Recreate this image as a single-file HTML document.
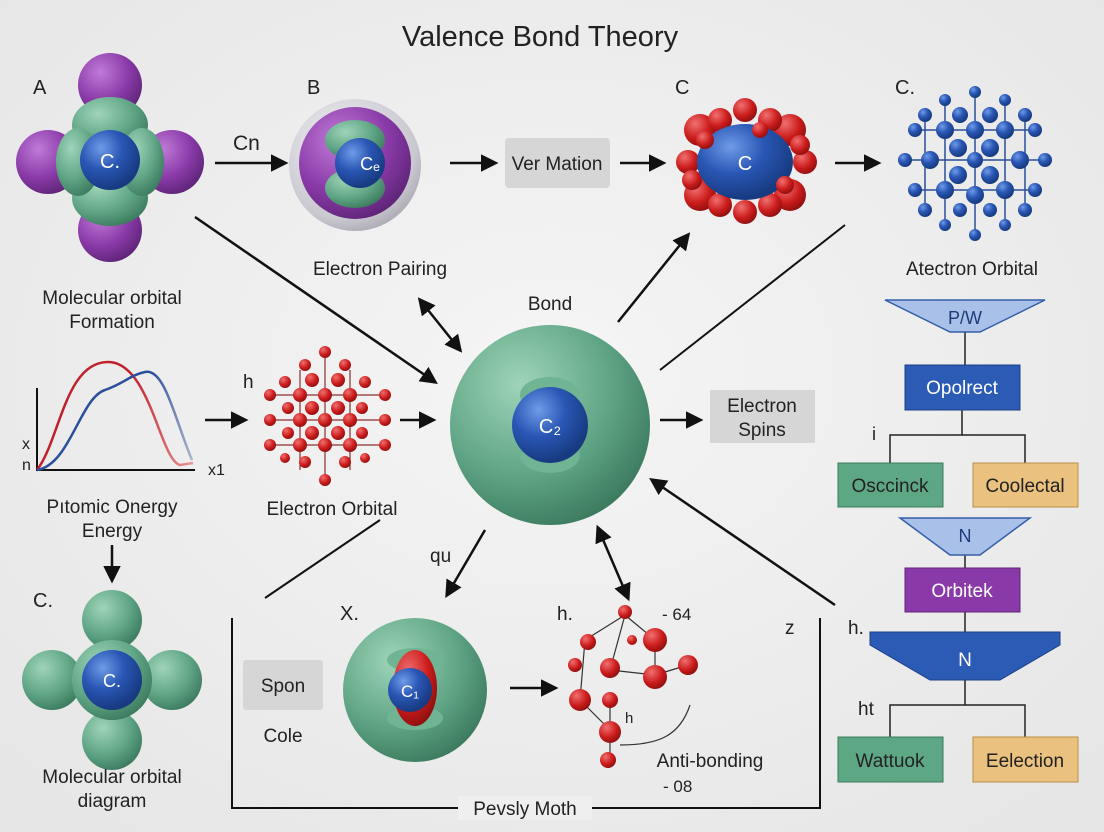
<!DOCTYPE html>
<html><head><meta charset="utf-8"><style>
html,body{margin:0;padding:0;background:#efefef}
svg{display:block}
text{font-family:"Liberation Sans",sans-serif;fill:#222}
</style></head><body>
<svg width="1104" height="832" viewBox="0 0 1104 832" xmlns="http://www.w3.org/2000/svg">
<defs>
<radialGradient id="bg" cx="50%" cy="45%" r="70%"><stop offset="0" stop-color="#f5f5f5"/><stop offset="1" stop-color="#e6e6e6"/></radialGradient>
<radialGradient id="blue" cx="35%" cy="30%" r="70%"><stop offset="0" stop-color="#6f9be8"/><stop offset="0.5" stop-color="#2a57b5"/><stop offset="1" stop-color="#173a80"/></radialGradient>
<radialGradient id="green" cx="35%" cy="30%" r="75%"><stop offset="0" stop-color="#9fd4b8"/><stop offset="0.6" stop-color="#5fa585"/><stop offset="1" stop-color="#3c7a5e"/></radialGradient>
<radialGradient id="purple" cx="35%" cy="30%" r="75%"><stop offset="0" stop-color="#c07ad8"/><stop offset="0.6" stop-color="#8a3aa8"/><stop offset="1" stop-color="#5e2477"/></radialGradient>
<radialGradient id="red" cx="35%" cy="30%" r="75%"><stop offset="0" stop-color="#f07070"/><stop offset="0.6" stop-color="#cc1c1c"/><stop offset="1" stop-color="#8c0f0f"/></radialGradient>
<radialGradient id="gray" cx="40%" cy="35%" r="70%"><stop offset="0" stop-color="#f4f4f6"/><stop offset="0.8" stop-color="#c9c7cf"/><stop offset="1" stop-color="#a9a6b0"/></radialGradient>
<linearGradient id="bluefade" x1="0" x2="1"><stop offset="0" stop-color="#2b4f9a"/><stop offset="0.75" stop-color="#2b4f9a"/><stop offset="1" stop-color="#aab4cc"/></linearGradient>
<linearGradient id="redfade" x1="0" x2="1"><stop offset="0" stop-color="#c0202a"/><stop offset="0.6" stop-color="#c0202a"/><stop offset="1" stop-color="#e89a9a"/></linearGradient>
<marker id="ah" viewBox="0 0 10 10" refX="8" refY="5" markerWidth="7" markerHeight="7" orient="auto-start-reverse"><path d="M0,0L10,5L0,10z" fill="#111"/></marker>
</defs>
<rect width="1104" height="832" fill="url(#bg)"/>
<text x="540" y="46" font-size="29" text-anchor="middle">Valence Bond Theory</text>

<g stroke="#111" stroke-width="2.5" fill="none" marker-end="url(#ah)">
<line x1="215" y1="163" x2="285" y2="163"/>
<line x1="450" y1="163" x2="495" y2="163"/>
<line x1="620" y1="163" x2="663" y2="163"/>
<line x1="835" y1="163" x2="878" y2="163"/>
<line x1="195" y1="217" x2="435" y2="382"/>
<line x1="420" y1="300" x2="460" y2="350" marker-start="url(#ah)"/>
<line x1="618" y1="322" x2="688" y2="235"/>
<line x1="205" y1="420" x2="245" y2="420"/>
<line x1="400" y1="420" x2="433" y2="420"/>
<line x1="660" y1="420" x2="700" y2="420"/>
<line x1="112" y1="545" x2="112" y2="580"/>
<line x1="485" y1="530" x2="447" y2="595"/>
<line x1="598" y1="528" x2="628" y2="598" marker-start="url(#ah)"/>
<line x1="835" y1="605" x2="652" y2="480"/>
<line x1="510" y1="688" x2="555" y2="688"/>
</g>
<g stroke="#111" stroke-width="2" fill="none">
<line x1="660" y1="370" x2="845" y2="225"/>
<line x1="265" y1="598" x2="380" y2="520"/>
<polyline points="232,618 232,808 820,808 820,618"/>
</g>

<!-- Molecule A -->
<circle cx="110" cy="85" r="32" fill="url(#purple)"/>
<circle cx="110" cy="230" r="32" fill="url(#purple)"/>
<circle cx="48" cy="162" r="32" fill="url(#purple)"/>
<circle cx="172" cy="162" r="32" fill="url(#purple)"/>
<ellipse cx="110" cy="125" rx="38" ry="28" fill="url(#green)"/>
<ellipse cx="110" cy="198" rx="38" ry="28" fill="url(#green)"/>
<ellipse cx="78" cy="162" rx="22" ry="34" fill="url(#green)"/>
<ellipse cx="142" cy="162" rx="22" ry="34" fill="url(#green)"/>
<circle cx="110" cy="160" r="30" fill="url(#blue)"/>
<text x="110" y="168" font-size="20" fill="#fff" text-anchor="middle" style="fill:#fff">C.</text>
<text x="33" y="94" font-size="20">A</text>
<text x="233" y="150" font-size="21">Cn</text>

<!-- Molecule B -->
<circle cx="355" cy="165" r="66" fill="url(#gray)"/>
<circle cx="355" cy="163" r="56" fill="url(#purple)"/>
<ellipse cx="355" cy="140" rx="30" ry="20" fill="url(#green)"/>
<ellipse cx="355" cy="188" rx="30" ry="20" fill="url(#green)"/>
<circle cx="360" cy="163" r="25" fill="url(#blue)"/>
<text x="370" y="170" font-size="18" text-anchor="middle" style="fill:#fff">Cₑ</text>
<text x="307" y="94" font-size="20">B</text>
<text x="380" y="275" font-size="19" text-anchor="middle">Electron Pairing</text>

<rect x="505" y="138" width="105" height="50" rx="4" fill="#d6d6d6"/>
<text x="557" y="170" font-size="19" text-anchor="middle">Ver Mation</text>

<!-- Molecule C red/blue -->
<text x="675" y="94" font-size="20">C</text>
<g fill="url(#red)">
<circle cx="700" cy="130" r="16"/><circle cx="790" cy="130" r="16"/><circle cx="700" cy="195" r="16"/><circle cx="790" cy="195" r="16"/>
<circle cx="745" cy="110" r="12"/><circle cx="745" cy="212" r="12"/><circle cx="688" cy="162" r="12"/><circle cx="805" cy="162" r="12"/>
<circle cx="720" cy="120" r="12"/><circle cx="770" cy="120" r="12"/><circle cx="720" cy="205" r="12"/><circle cx="770" cy="205" r="12"/>
<circle cx="692" cy="180" r="10"/><circle cx="800" cy="145" r="10"/>
</g>
<ellipse cx="745" cy="162" rx="48" ry="38" fill="url(#blue)"/>
<text x="745" y="170" font-size="20" text-anchor="middle" style="fill:#fff">C</text>
<g fill="url(#red)"><circle cx="705" cy="140" r="9"/><circle cx="785" cy="185" r="9"/><circle cx="760" cy="130" r="8"/></g>

<!-- Blue lattice -->
<text x="895" y="94" font-size="20">C.</text>
<g stroke="#2a4f99" stroke-width="1.5">
<line x1="905" y1="160" x2="1045" y2="160"/><line x1="915" y1="130" x2="1035" y2="130"/><line x1="915" y1="190" x2="1035" y2="190"/>
<line x1="945" y1="100" x2="945" y2="225"/><line x1="975" y1="92" x2="975" y2="235"/><line x1="1005" y1="100" x2="1005" y2="225"/>
<line x1="925" y1="110" x2="925" y2="215"/><line x1="1025" y1="110" x2="1025" y2="215"/>
</g>
<g fill="url(#blue)">
<circle cx="945" cy="100" r="6"/><circle cx="975" cy="92" r="6"/><circle cx="1005" cy="100" r="6"/>
<circle cx="925" cy="115" r="7"/><circle cx="960" cy="115" r="8"/><circle cx="990" cy="115" r="8"/><circle cx="1025" cy="115" r="7"/>
<circle cx="915" cy="130" r="7"/><circle cx="945" cy="130" r="9"/><circle cx="975" cy="130" r="9"/><circle cx="1005" cy="130" r="9"/><circle cx="1035" cy="130" r="7"/>
<circle cx="905" cy="160" r="7"/><circle cx="930" cy="160" r="9"/><circle cx="958" cy="148" r="9"/><circle cx="990" cy="148" r="9"/><circle cx="1020" cy="160" r="9"/><circle cx="1045" cy="160" r="7"/>
<circle cx="958" cy="175" r="9"/><circle cx="990" cy="175" r="9"/><circle cx="975" cy="160" r="8"/>
<circle cx="915" cy="190" r="7"/><circle cx="945" cy="190" r="9"/><circle cx="975" cy="195" r="9"/><circle cx="1005" cy="190" r="9"/><circle cx="1035" cy="190" r="7"/>
<circle cx="925" cy="210" r="7"/><circle cx="960" cy="210" r="7"/><circle cx="990" cy="210" r="7"/><circle cx="1025" cy="210" r="7"/>
<circle cx="945" cy="225" r="6"/><circle cx="975" cy="235" r="6"/><circle cx="1005" cy="225" r="6"/>
</g>
<text x="972" y="275" font-size="19" text-anchor="middle">Atectron Orbital</text>

<text x="112" y="304" font-size="19" text-anchor="middle">Molecular orbital</text>
<text x="112" y="328" font-size="19" text-anchor="middle">Formation</text>
<text x="550" y="310" font-size="19" text-anchor="middle">Bond</text>

<!-- Central sphere -->
<circle cx="550" cy="425" r="100" fill="url(#green)"/>
<ellipse cx="550" cy="395" rx="30" ry="18" fill="#6fb493"/>
<ellipse cx="550" cy="455" rx="30" ry="18" fill="#6fb493"/>
<circle cx="550" cy="425" r="38" fill="url(#blue)"/>
<text x="550" y="433" font-size="20" text-anchor="middle" style="fill:#fff">C₂</text>

<!-- Graph -->
<polyline points="37,388 37,470 195,470" stroke="#111" stroke-width="2" fill="none"/>
<path d="M37,470 C60,440 65,362 108,362 C150,362 160,460 180,465 L193,463" stroke="url(#redfade)" stroke-width="2.5" fill="none"/>
<path d="M37,470 C70,465 80,398 105,390 C125,383 130,375 145,372 C165,368 175,420 192,460" stroke="url(#bluefade)" stroke-width="2.5" fill="none"/>
<text x="22" y="449" font-size="16">x</text>
<text x="22" y="470" font-size="16">n</text>
<text x="208" y="475" font-size="16">x1</text>
<text x="112" y="513" font-size="19" text-anchor="middle">Pıtomic  Onergy</text>
<text x="112" y="537" font-size="19" text-anchor="middle">Energy</text>

<!-- Red lattice -->
<text x="243" y="388" font-size="19">h</text>
<g stroke="#8a3030" stroke-width="1.2">
<line x1="270" y1="395" x2="385" y2="395"/><line x1="270" y1="420" x2="385" y2="420"/><line x1="270" y1="445" x2="385" y2="445"/>
<line x1="300" y1="370" x2="300" y2="470"/><line x1="325" y1="352" x2="325" y2="480"/><line x1="350" y1="370" x2="350" y2="470"/>
</g>
<g fill="url(#red)">
<circle cx="325" cy="352" r="6"/><circle cx="305" cy="365" r="6"/><circle cx="345" cy="365" r="6"/>
<circle cx="285" cy="382" r="6"/><circle cx="312" cy="380" r="7"/><circle cx="338" cy="380" r="7"/><circle cx="365" cy="382" r="6"/>
<circle cx="270" cy="395" r="6"/><circle cx="300" cy="395" r="7"/><circle cx="325" cy="395" r="7"/><circle cx="350" cy="395" r="7"/><circle cx="385" cy="395" r="6"/>
<circle cx="270" cy="420" r="6"/><circle cx="288" cy="408" r="6"/><circle cx="312" cy="408" r="7"/><circle cx="338" cy="408" r="7"/><circle cx="362" cy="408" r="6"/>
<circle cx="300" cy="420" r="7"/><circle cx="325" cy="420" r="7"/><circle cx="350" cy="420" r="7"/><circle cx="385" cy="420" r="6"/>
<circle cx="288" cy="433" r="6"/><circle cx="312" cy="433" r="7"/><circle cx="338" cy="433" r="7"/><circle cx="362" cy="433" r="6"/>
<circle cx="270" cy="445" r="6"/><circle cx="300" cy="445" r="7"/><circle cx="325" cy="445" r="7"/><circle cx="350" cy="445" r="7"/><circle cx="385" cy="445" r="6"/>
<circle cx="305" cy="462" r="6"/><circle cx="345" cy="462" r="6"/><circle cx="325" cy="480" r="6"/><circle cx="285" cy="458" r="5"/><circle cx="365" cy="458" r="5"/>
</g>
<text x="332" y="515" font-size="19" text-anchor="middle">Electron Orbital</text>

<rect x="710" y="390" width="105" height="53" fill="#d6d6d6"/>
<text x="762" y="412" font-size="19" text-anchor="middle">Electron</text>
<text x="762" y="436" font-size="19" text-anchor="middle">Spins</text>

<!-- Flowchart -->
<g stroke="#222" stroke-width="1.5" fill="none">
<line x1="965" y1="330" x2="965" y2="365"/>
<polyline points="962,410 962,435 890,435 890,463"/><polyline points="962,435 1025,435 1025,463"/>
<line x1="965" y1="555" x2="965" y2="568"/>
<line x1="965" y1="612" x2="965" y2="632"/>
<polyline points="965,680 965,705 890,705 890,737"/><polyline points="965,705 1025,705 1025,737"/>
</g>
<path d="M885,300 L1045,300 L980,332 L950,332 Z" fill="#a9c1e8" stroke="#355ea8" stroke-width="1.5"/>
<text x="965" y="324" font-size="18" text-anchor="middle" style="fill:#1e3a7a">P/W</text>
<rect x="905" y="365" width="115" height="45" fill="#2b5bb5" stroke="#1c3f85"/>
<text x="962" y="394" font-size="19" text-anchor="middle" style="fill:#fff">Opolrect</text>
<text x="872" y="440" font-size="18">i</text>
<rect x="838" y="463" width="105" height="44" fill="#5ea784" stroke="#3a7a5b"/>
<text x="890" y="492" font-size="19" text-anchor="middle">Osccinck</text>
<rect x="973" y="463" width="105" height="44" fill="#eac17f" stroke="#b98f45"/>
<text x="1025" y="492" font-size="19" text-anchor="middle">Coolectal</text>
<path d="M900,518 L1030,518 L980,555 L950,555 Z" fill="#a9c1e8" stroke="#355ea8" stroke-width="1.5"/>
<text x="965" y="542" font-size="18" text-anchor="middle" style="fill:#1e3a7a">N</text>
<rect x="905" y="568" width="115" height="44" fill="#8a3aa8" stroke="#5e2477"/>
<text x="962" y="597" font-size="19" text-anchor="middle" style="fill:#fff">Orbitek</text>
<path d="M870,632 L1060,632 L1060,645 L1000,680 L930,680 L870,645 Z" fill="#2b5bb5" stroke="#1c3f85"/>
<text x="965" y="666" font-size="19" text-anchor="middle" style="fill:#fff">N</text>
<text x="848" y="634" font-size="19">h.</text>
<text x="858" y="715" font-size="19">ht</text>
<rect x="838" y="737" width="105" height="45" fill="#5ea784" stroke="#3a7a5b"/>
<text x="890" y="767" font-size="19" text-anchor="middle">Wattuok</text>
<rect x="973" y="737" width="105" height="45" fill="#eac17f" stroke="#b98f45"/>
<text x="1025" y="767" font-size="19" text-anchor="middle">Eelection</text>

<!-- Bottom-left molecule -->
<text x="33" y="607" font-size="20">C.</text>
<circle cx="112" cy="620" r="30" fill="url(#green)"/>
<circle cx="112" cy="740" r="30" fill="url(#green)"/>
<circle cx="52" cy="680" r="30" fill="url(#green)"/>
<circle cx="172" cy="680" r="30" fill="url(#green)"/>
<circle cx="112" cy="680" r="40" fill="url(#green)"/>
<circle cx="112" cy="680" r="30" fill="url(#blue)"/>
<text x="112" y="687" font-size="18" text-anchor="middle" style="fill:#fff">C.</text>
<text x="112" y="783" font-size="19" text-anchor="middle">Molecular orbital</text>
<text x="112" y="807" font-size="19" text-anchor="middle">diagram</text>

<!-- bottom middle -->
<text x="430" y="562" font-size="19">qu</text>
<text x="340" y="620" font-size="20">X.</text>
<rect x="243" y="660" width="80" height="50" rx="3" fill="#d6d6d6"/>
<text x="283" y="692" font-size="19" text-anchor="middle">Spon</text>
<text x="283" y="742" font-size="19" text-anchor="middle">Cole</text>
<circle cx="415" cy="690" r="72" fill="url(#green)"/>
<ellipse cx="415" cy="660" rx="28" ry="12" fill="#6fb493"/>
<ellipse cx="415" cy="718" rx="28" ry="12" fill="#6fb493"/>
<ellipse cx="415" cy="688" rx="22" ry="38" fill="url(#red)"/>
<circle cx="410" cy="690" r="22" fill="url(#blue)"/>
<text x="410" y="697" font-size="17" text-anchor="middle" style="fill:#fff">C₁</text>

<!-- red small molecule -->
<text x="557" y="620" font-size="19">h.</text>
<text x="662" y="620" font-size="17">- 64</text>
<g stroke="#333" stroke-width="1.2" fill="none">
<line x1="585" y1="640" x2="625" y2="615"/><line x1="625" y1="615" x2="655" y2="640"/><line x1="625" y1="615" x2="610" y2="670"/>
<line x1="585" y1="640" x2="580" y2="700"/><line x1="655" y1="640" x2="655" y2="675"/><line x1="610" y1="670" x2="655" y2="675"/>
<line x1="580" y1="700" x2="610" y2="730"/><line x1="610" y1="700" x2="610" y2="760"/><line x1="655" y1="675" x2="688" y2="665"/>
<path d="M620,745 C660,745 680,735 690,705"/>
</g>
<g fill="url(#red)">
<circle cx="625" cy="612" r="7"/><circle cx="655" cy="640" r="12"/><circle cx="588" cy="642" r="8"/><circle cx="575" cy="665" r="7"/>
<circle cx="610" cy="668" r="10"/><circle cx="655" cy="677" r="12"/><circle cx="688" cy="665" r="10"/><circle cx="580" cy="700" r="11"/>
<circle cx="610" cy="700" r="8"/><circle cx="610" cy="732" r="11"/><circle cx="608" cy="760" r="8"/><circle cx="632" cy="640" r="5"/>
</g>
<text x="625" y="723" font-size="15">h</text>
<text x="663" y="792" font-size="17">- 08</text>
<text x="710" y="767" font-size="19" text-anchor="middle">Anti-bonding</text>
<text x="785" y="634" font-size="19">z</text>
<rect x="458" y="796" width="134" height="24" fill="#efefef"/>
<text x="525" y="815" font-size="19" text-anchor="middle">Pevsly Moth</text>
</svg>
</body></html>
